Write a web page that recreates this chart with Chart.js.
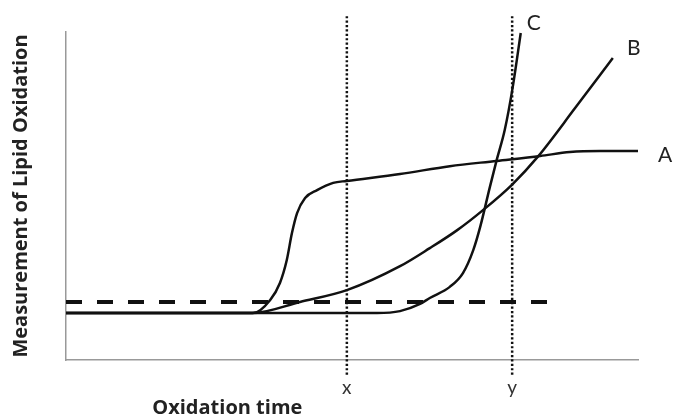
<!DOCTYPE html>
<html>
<head>
<meta charset="utf-8">
<script src="https://cdn.jsdelivr.net/npm/chart.js@4"></script>
<style>
  html, body { margin: 0; padding: 0; background: #fff; }
  #wrap { width: 674px; height: 419px; }
</style>
</head>
<body>
<div id="wrap"><canvas id="myChart"></canvas></div>
<script>
const timeA  = [0, 32.7, 35.7, 37.4, 38.6, 39.5, 40.4, 41.8, 43.9, 46.7, 49.1, 58.4, 67.1, 75.3, 82.9, 88.1, 93.4, 100];
const valueA = [14.3, 14.3, 18.3, 23.5, 30.5, 38.7, 44.8, 49.4, 51.8, 54.0, 54.6, 56.7, 59.1, 60.7, 62.2, 63.4, 63.7, 63.7];

const timeB  = [0, 32.5, 40.9, 49.1, 58.4, 63.6, 68.4, 72.9, 78.0, 82.5, 89.0, 95.6];
const valueB = [14.3, 14.3, 17.7, 21.3, 28.6, 34.1, 39.6, 45.7, 53.5, 62.0, 76.8, 92.1];

const timeC  = [0, 54.4, 58.4, 61.9, 63.6, 67.1, 69.4, 71.2, 72.4, 74.1, 75.3, 76.7, 78.1, 79.5];
const valueC = [14.3, 14.3, 14.9, 17.1, 18.9, 22.3, 26.5, 33.5, 40.5, 52.7, 61.0, 70.1, 83.2, 99.7];

const thresholdTime  = [0, 85];
const thresholdValue = [17.7, 17.7];

const markerTimes  = [49.1, 78.0];
const markerLabels = ['x', 'y'];
const markerSpan   = [-4.5, 105.5];

const seriesNames = ['A', 'B', 'C'];

function pts(xs, ys) { return xs.map((x, i) => ({x: x, y: ys[i]})); }

const curve = {
    type: 'line',
    borderColor: '#111',
    borderWidth: 2.5,
    pointRadius: 0,
    fill: false,
    cubicInterpolationMode: 'monotone'
};

const datasets = [
    Object.assign({}, curve, {label: seriesNames[0], data: pts(timeA, valueA), tagDx: 27, tagDy: 4}),
    Object.assign({}, curve, {label: seriesNames[1], data: pts(timeB, valueB), tagDx: 21, tagDy: -10}),
    Object.assign({}, curve, {label: seriesNames[2], data: pts(timeC, valueC), tagDx: 13, tagDy: -10}),
    {
        type: 'line', label: 'threshold',
        data: pts(thresholdTime, thresholdValue),
        borderColor: '#111', borderWidth: 4, borderDash: [16, 15],
        pointRadius: 0, fill: false
    }
];
markerTimes.forEach((t, i) => {
    datasets.push({
        type: 'line', label: markerLabels[i],
        data: pts([t, t], markerSpan),
        borderColor: '#111', borderWidth: 2.5, borderDash: [2.2, 2.2],
        pointRadius: 0, fill: false, clip: false
    });
});

// letters next to the curve ends
const tagPlugin = {
    id: 'tags',
    afterDatasetsDraw(chart) {
        const c = chart.ctx;
        c.save();
        c.font = '21px Lato';
        c.fillStyle = '#222';
        c.textAlign = 'center';
        c.textBaseline = 'middle';
        chart.data.datasets.forEach((ds, i) => {
            if (ds.tagDx === undefined) return;
            const els = chart.getDatasetMeta(i).data;
            const last = els[els.length - 1];
            c.fillText(ds.label, last.x + ds.tagDx, last.y + ds.tagDy);
        });
        c.restore();
    }
};

// x axis title sits left of centre in the original
const xTitlePlugin = {
    id: 'xTitle',
    afterDraw(chart) {
        const a = chart.chartArea;
        const c = chart.ctx;
        c.save();
        c.font = 'bold 20px "Open Sans"';
        c.fillStyle = '#222';
        c.textAlign = 'center';
        c.textBaseline = 'middle';
        c.fillText('Oxidation time', a.left + (a.right - a.left) * 0.282, 408);
        c.restore();
    }
};

const ctx = document.getElementById('myChart');

new Chart(ctx, {
    data: { datasets: datasets },
    options: {
        responsive: true,
        maintainAspectRatio: false,
        animation: false,
        layout: { padding: { left: 0, top: 32, right: 36, bottom: 0 } },
        plugins: {
            legend: { display: false },
            tooltip: { enabled: false }
        },
        scales: {
            x: {
                type: 'linear',
                min: 0,
                max: 100,
                grid: { display: false, drawTicks: false },
                border: { display: true, color: '#999', width: 1.5 },
                afterBuildTicks(scale) {
                    scale.ticks = markerTimes.map(v => ({value: v}));
                },
                afterFit(scale) { scale.height = 59; },
                ticks: {
                    autoSkip: false,
                    maxRotation: 0,
                    padding: 16,
                    color: '#333',
                    font: { family: 'Lato', size: 19 },
                    callback: (v, i) => markerLabels[i]
                }
            },
            y: {
                type: 'linear',
                min: 0,
                max: 100,
                grid: { display: false, drawTicks: false },
                border: { display: true, color: '#999', width: 1.5 },
                ticks: { display: false },
                afterFit(scale) { scale.width = 66; },
                title: {
                    display: true,
                    text: 'Measurement of Lipid Oxidation',
                    color: '#222',
                    font: { family: 'Open Sans', weight: 'bold', size: 20 },
                    padding: { top: 9, bottom: 0 }
                }
            }
        }
    },
    plugins: [tagPlugin, xTitlePlugin]
});
</script>
</body>
</html>
